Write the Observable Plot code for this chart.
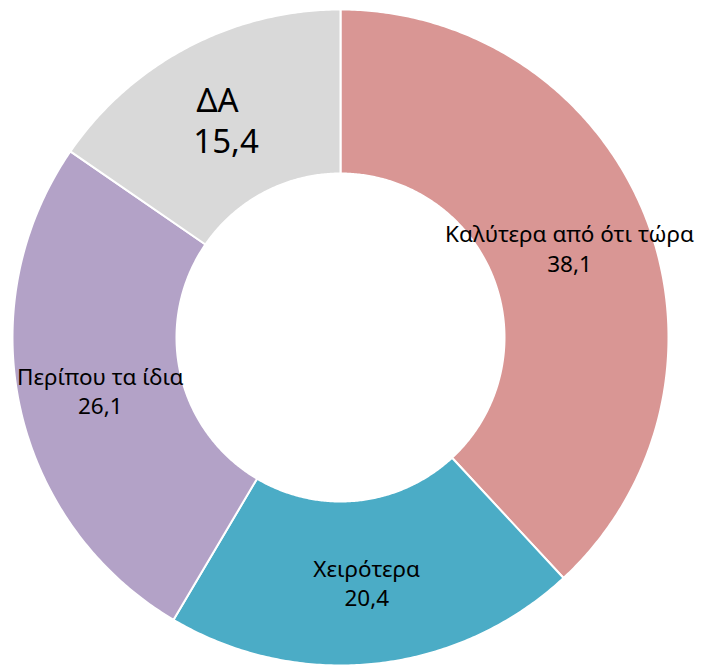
<!DOCTYPE html>
<html>
<head>
<meta charset="utf-8">
<script src="https://cdn.jsdelivr.net/npm/d3@7"></script>
<script src="https://cdn.jsdelivr.net/npm/@observablehq/plot@0.6"></script>
<style>
  html, body { margin: 0; padding: 0; background: #ffffff; }
</style>
</head>
<body>
<div id="chart"></div>
<script>
// ---- data ----
const categories = ["Καλύτερα από ότι τώρα", "Χειρότερα", "Περίπου τα ίδια", "ΔΑ"];
const values = [38.1, 20.4, 26.1, 15.4];
const valueLabels = ["38,1", "20,4", "26,1", "15,4"];
const colors = ["#D99694", "#4BACC6", "#B3A2C7", "#D9D9D9"];
const holeRatio = 0.5;

// ---- geometry (donut slices as planar polygons, clockwise from 12 o'clock) ----
const total = d3.sum(values);
let acc = 0;
const slices = categories.map((c, i) => {
  const a0 = (acc / total) * 2 * Math.PI;
  acc += values[i];
  const a1 = (acc / total) * 2 * Math.PI;
  return { category: c, value: values[i], label: valueLabels[i], a0, a1 };
});
const pt = (a, r) => [r * Math.sin(a), -r * Math.cos(a)];
const features = slices.map(s => {
  const n = Math.max(2, Math.ceil((s.a1 - s.a0) / (Math.PI / 360)));
  const outer = d3.range(n + 1).map(k => pt(s.a0 + (s.a1 - s.a0) * k / n, 1));
  const inner = d3.range(n + 1).map(k => pt(s.a1 - (s.a1 - s.a0) * k / n, holeRatio));
  return {
    type: "Feature",
    properties: { category: s.category },
    geometry: { type: "Polygon", coordinates: [[...outer, ...inner, outer[0]]] }
  };
});
const labels = slices.map(s => {
  const m = (s.a0 + s.a1) / 2;
  const [x, y] = pt(m, (1 + holeRatio) / 2);
  const name = s.category === "ΔΑ" ? "ΔΑ\u00a0\u00a0" : s.category;
  return { x, y, text: name + "\n" + s.label, big: s.category === "ΔΑ" };
});

const chart = Plot.plot({
  width: 706,
  height: 666,
  marginLeft: 12,
  marginRight: 38,
  marginTop: 9,
  marginBottom: 1,
  style: { fontFamily: "'Noto Sans', sans-serif", background: "#ffffff" },
  projection: {
    type: "identity",
    domain: { type: "MultiPoint", coordinates: [[-1, -1], [1, 1]] },
    clip: false
  },
  color: { domain: categories, range: colors },
  marks: [
    Plot.geo(features, { fill: d => d.properties.category, stroke: "white", strokeWidth: 2, clip: false }),
    Plot.text(labels.filter(d => !d.big), { x: "x", y: "y", text: "text", fontSize: 22.5, lineHeight: 1.3, fill: "black" }),
    Plot.text(labels.filter(d => d.big), { x: "x", y: "y", text: "text", fontSize: 33, lineHeight: 1.24, fill: "black" })
  ]
});
document.getElementById("chart").appendChild(chart);
</script>
</body>
</html>
